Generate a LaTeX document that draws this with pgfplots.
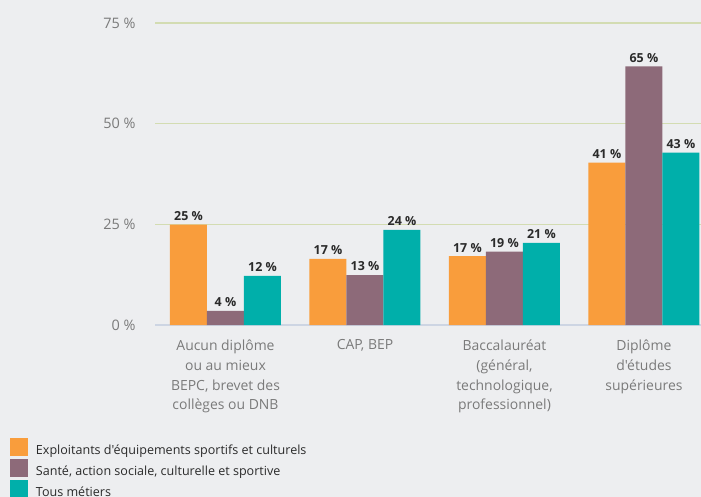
\documentclass[border=0pt]{standalone}
\usepackage{fontspec}
\setmainfont{Open Sans}[Ligatures=TeXOff]
\usepackage{pgfplots}
\pgfplotsset{compat=1.18}
\definecolor{bg}{HTML}{EDEEF0}
\definecolor{cOrange}{HTML}{F99D3C}
\definecolor{cPurple}{HTML}{8D6A79}
\definecolor{cTeal}{HTML}{00AFAA}
\definecolor{gridc}{HTML}{D3DCB2}
\definecolor{basec}{HTML}{CDD5E3}
\definecolor{tickc}{HTML}{7A7A7A}
\definecolor{labc}{HTML}{2A2A2A}
\begin{document}
\begin{tikzpicture}
\fill[bg] (0,0) rectangle (701bp,497bp);
\begin{axis}[
  at={(155bp,172bp)}, anchor=south west,
  scale only axis, width=546bp, height=302bp,
  xmin=-0.5054, xmax=3.409, ymin=0, ymax=75,
  enlargelimits=false, clip=false,
  ybar=0pt, bar width=37bp,
  axis line style={draw=none},
  major tick length=0pt,
  ytick={25,50,75}, yticklabels={25 \%,50 \%,75 \%},
  extra y ticks={0}, extra y tick labels={0 \%},
  extra y tick style={grid style={color=basec, line width=1.2bp}},
  ymajorgrids, grid style={color=gridc, line width=1.2bp},
  yticklabel style={font=\fontsize{14.5}{16}\selectfont, text=tickc, xshift=-16bp},
  xtick={0,1,2,3},
  xticklabels={{Aucun diplôme\\ou au mieux\\BEPC, brevet des\\collèges ou DNB},{CAP, BEP},{Baccalauréat\\(général,\\technologique,\\professionnel)},{Diplôme\\d'études\\supérieures}},
  xticklabel style={font=\fontsize{14}{20}\selectfont, text=tickc, align=center, yshift=-11bp},
  nodes near coords, point meta=explicit symbolic,
  every node near coord/.append style={font=\fontsize{12.5}{14}\selectfont\bfseries, text=labc, yshift=0.5bp},
  legend cell align=left,
  legend style={at={(-0.2656,-0.3742)}, anchor=north west, draw=none, fill=none,
    inner sep=0pt, outer sep=0pt, row sep=3bp,
    font=\fontsize{12.6}{14}\selectfont, text=labc,
    nodes={inner sep=0pt}},
  legend image code/.code={\fill[#1] (0bp,-5.5bp) rectangle (18bp,12.5bp); \path (26bp,0bp);},
]
\addplot[fill=cOrange, draw=none] coordinates {(0,24.9) [25 \%] (1,16.4) [17 \%] (2,17.1) [17 \%] (3,40.3) [41 \%]};
\addplot[fill=cPurple, draw=none] coordinates {(0,3.5) [4 \%] (1,12.4) [13 \%] (2,18.2) [19 \%] (3,64.2) [65 \%]};
\addplot[fill=cTeal, draw=none] coordinates {(0,12.2) [12 \%] (1,23.6) [24 \%] (2,20.4) [21 \%] (3,42.8) [43 \%]};
\legend{Exploitants d'équipements sportifs et culturels, {Santé, action sociale, culturelle et sportive}, Tous métiers}
\end{axis}
\pgfresetboundingbox
\useasboundingbox (0,0) rectangle (701bp,497bp);
\end{tikzpicture}
\end{document}
